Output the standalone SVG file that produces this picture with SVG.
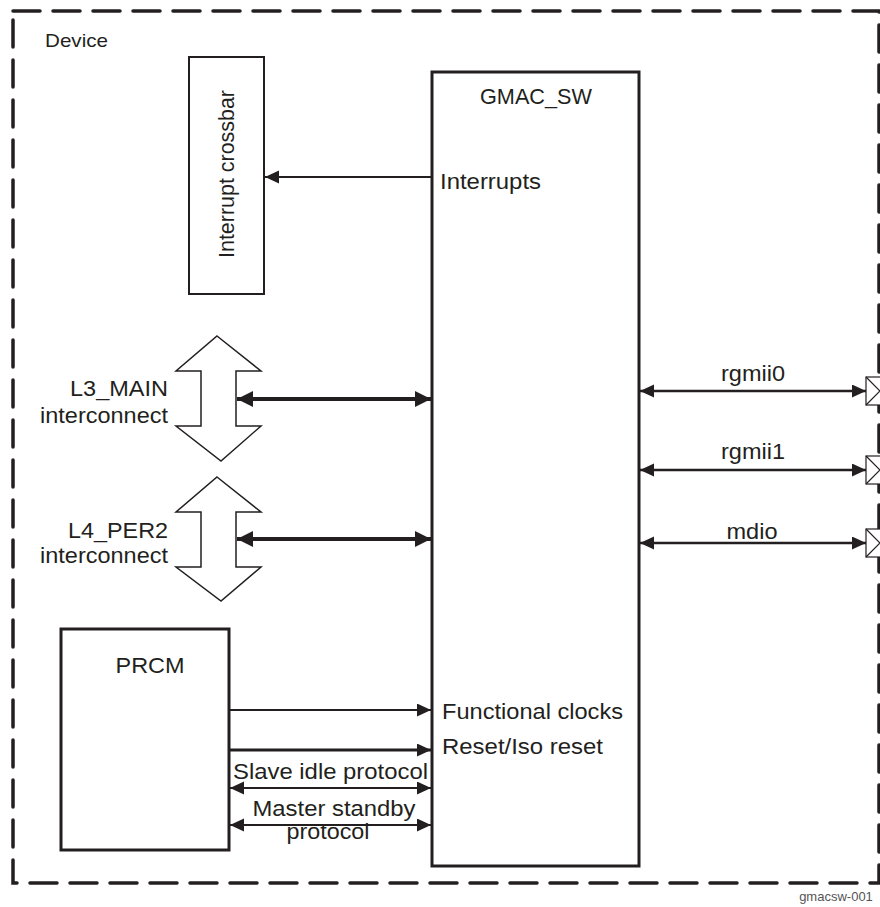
<svg xmlns="http://www.w3.org/2000/svg" width="880" height="907" viewBox="0 0 880 907">
<style>
text{font-family:"Liberation Sans",Arial,sans-serif;fill:#231f20;font-size:22.5px}
text.sm{font-size:19px}
text.tag{font-size:13px;fill:#555}
.box{fill:#fff;stroke:#231f20}
.ln{stroke:#231f20;fill:none}
</style>
<defs>
<marker id="a" markerUnits="userSpaceOnUse" markerWidth="15" markerHeight="15" refX="14" refY="6.5" orient="auto-start-reverse"><path d="M0,0 L14,6.5 L0,13 z" fill="#231f20"/></marker>
<marker id="b" markerUnits="userSpaceOnUse" markerWidth="17" markerHeight="17" refX="16" refY="8" orient="auto-start-reverse"><path d="M0,0 L16,8 L0,16 z" fill="#231f20"/></marker>
</defs>
<rect id="device" x="13" y="11" width="866" height="872" fill="none" stroke="#231f20" stroke-width="3.5" stroke-dasharray="27 13" stroke-linecap="round"/>
<text class="sm" x="45" y="47" textLength="63" lengthAdjust="spacingAndGlyphs">Device</text>

<g id="interrupt-crossbar">
<rect class="box" x="189" y="57" width="75" height="237" stroke-width="2"/>
<text transform="translate(234,174) rotate(-90)" text-anchor="middle" textLength="168" lengthAdjust="spacingAndGlyphs">Interrupt crossbar</text>
</g>

<g id="gmac-sw">
<rect class="box" x="432" y="72" width="207" height="794" stroke-width="3"/>
<text x="536" y="104" text-anchor="middle" textLength="112" lengthAdjust="spacingAndGlyphs">GMAC_SW</text>
<text x="440" y="189" textLength="101" lengthAdjust="spacingAndGlyphs">Interrupts</text>
<text x="442" y="719" textLength="181" lengthAdjust="spacingAndGlyphs">Functional clocks</text>
<text x="442" y="754" textLength="161" lengthAdjust="spacingAndGlyphs">Reset/Iso reset</text>
</g>

<g id="l3-main">
<polygon class="box" stroke-width="1.5" points="217,336 261,371 236,371 236,426 261,426 221,461 176,426 201,426 201,371 176,371"/>
<text x="168" y="396" text-anchor="end" textLength="98" lengthAdjust="spacingAndGlyphs">L3_MAIN</text>
<text x="168" y="423" text-anchor="end" textLength="128" lengthAdjust="spacingAndGlyphs">interconnect</text>
</g>

<g id="l4-per2">
<polygon class="box" stroke-width="1.5" points="217,477 261,512 236,512 236,567 261,567 221,601 176,567 201,567 201,512 176,512"/>
<text x="168" y="538" text-anchor="end" textLength="100" lengthAdjust="spacingAndGlyphs">L4_PER2</text>
<text x="168" y="563" text-anchor="end" textLength="128" lengthAdjust="spacingAndGlyphs">interconnect</text>
</g>

<g id="prcm">
<rect class="box" x="61" y="629" width="168" height="221" stroke-width="3"/>
<text x="150" y="673" text-anchor="middle" textLength="69" lengthAdjust="spacingAndGlyphs">PRCM</text>
</g>

<g id="pin-rgmii0"><rect class="box" x="866" y="377" width="16" height="28" stroke-width="1.2"/><polyline class="ln" stroke-width="1.2" points="866,377 880,391 866,405"/></g>
<g id="pin-rgmii1"><rect class="box" x="866" y="456" width="16" height="28" stroke-width="1.2"/><polyline class="ln" stroke-width="1.2" points="866,456 880,470 866,484"/></g>
<g id="pin-mdio"><rect class="box" x="866" y="529" width="16" height="28" stroke-width="1.2"/><polyline class="ln" stroke-width="1.2" points="866,529 880,543 866,557"/></g>

<g id="connectors">
<line class="ln" x1="432" y1="177" x2="265" y2="177" stroke-width="2" marker-end="url(#a)"/>
<line class="ln" x1="237" y1="399" x2="431" y2="399" stroke-width="4" marker-start="url(#b)" marker-end="url(#b)"/>
<line class="ln" x1="237" y1="539" x2="431" y2="539" stroke-width="4" marker-start="url(#b)" marker-end="url(#b)"/>
<line class="ln" x1="640" y1="391" x2="866" y2="391" stroke-width="2.5" marker-start="url(#a)" marker-end="url(#a)"/>
<line class="ln" x1="640" y1="470" x2="866" y2="470" stroke-width="2.5" marker-start="url(#a)" marker-end="url(#a)"/>
<line class="ln" x1="640" y1="543" x2="866" y2="543" stroke-width="2.5" marker-start="url(#a)" marker-end="url(#a)"/>
<line class="ln" x1="230" y1="710" x2="431" y2="710" stroke-width="2" marker-end="url(#a)"/>
<line class="ln" x1="230" y1="750" x2="431" y2="750" stroke-width="3" marker-end="url(#a)"/>
<line class="ln" x1="230" y1="788" x2="431" y2="788" stroke-width="2" marker-start="url(#a)" marker-end="url(#a)"/>
<line class="ln" x1="230" y1="825" x2="431" y2="825" stroke-width="2" marker-start="url(#a)" marker-end="url(#a)"/>
<text x="753" y="381" text-anchor="middle" textLength="64" lengthAdjust="spacingAndGlyphs">rgmii0</text>
<text x="753" y="459" text-anchor="middle" textLength="64" lengthAdjust="spacingAndGlyphs">rgmii1</text>
<text x="752" y="539" text-anchor="middle" textLength="51" lengthAdjust="spacingAndGlyphs">mdio</text>
<text x="233" y="779" textLength="195" lengthAdjust="spacingAndGlyphs">Slave idle protocol</text>
<text x="334" y="816" text-anchor="middle" textLength="163" lengthAdjust="spacingAndGlyphs">Master standby</text>
<text x="328" y="839" text-anchor="middle" textLength="83" lengthAdjust="spacingAndGlyphs">protocol</text>
</g>
<text class="tag" x="836" y="901" text-anchor="middle">gmacsw-001</text>
</svg>
